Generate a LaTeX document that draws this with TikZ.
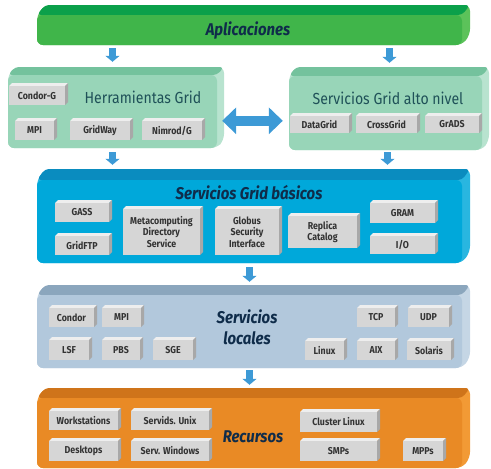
\documentclass[tikz,border=0pt]{standalone}
\usepackage{fontspec}
\setmainfont{Fira Sans}
\newfontfamily\narrowsans[FakeStretch=0.88]{Fira Sans}
\usetikzlibrary{arrows.meta,calc}

% layer colours: front face, top face, right side
\definecolor{appsfront}{HTML}{40B54A}
\definecolor{appstop}{HTML}{0BA04A}
\definecolor{appsside}{HTML}{5CC25A}
\definecolor{herrfront}{HTML}{98D5B8}
\definecolor{herrtop}{HTML}{74C29D}
\definecolor{herrside}{HTML}{B8E3CF}
\definecolor{basfront}{HTML}{00A8DA}
\definecolor{bastop}{HTML}{0A8CBF}
\definecolor{basside}{HTML}{29B6E0}
\definecolor{locfront}{HTML}{B2C8DC}
\definecolor{loctop}{HTML}{8BA6BD}
\definecolor{locside}{HTML}{C5D6E5}
\definecolor{recfront}{HTML}{E98A25}
\definecolor{rectop}{HTML}{CF741A}
\definecolor{recside}{HTML}{F29A35}
% small component boxes
\definecolor{chipfront}{HTML}{D6D6D6}
\definecolor{chiptop}{HTML}{EEEEEE}
\definecolor{chipside}{HTML}{A8A8A8}
\definecolor{chiptext}{HTML}{333333}
% text and arrows
\definecolor{titlenavy}{HTML}{0F2C4A}
\definecolor{titleteal}{HTML}{1F5158}
\definecolor{arrowblue}{HTML}{3D9AD6}

\tikzset{
  chipbox/.style={fill=chipfront, inner sep=0pt, text=chiptext, align=center,
    font=\narrowsans\fontsize{10}{11.5}\selectfont\bfseries},
  slabfront/.style={rounded corners=6pt, inner sep=0pt},
  boldtitle/.style={text=titlenavy, align=center,
    font=\narrowsans\fontsize{17}{21}\selectfont\bfseries\itshape},
  plaintitle/.style={text=titleteal, font=\narrowsans\fontsize{16}{18}\selectfont},
  darrow/.style={draw=arrowblue, line width=7pt,
    -{Triangle[width=14pt,length=6pt]}},
  biarrow/.style={draw=arrowblue, line width=10pt,
    {Triangle[width=26pt,length=14pt]}-{Triangle[width=26pt,length=14pt]}},
}

% \slab{name}{x1}{top}{x2}{bottom}{dx}{dy}{colour prefix}
\newcommand\slab[8]{%
  \fill[#8side, rounded corners=6pt] (#2,#5) -- (#2,{#3+#7}) -- ({#2+#6},#3)
     -- ({#4+#6},#3) -- ({#4+#6},{#5-#7}) -- (#4,#5) -- cycle;
  \fill[#8top, rounded corners=4pt] (#2,{#3+#7}) -- ({#2+#6},#3)
     -- ({#4+#6},#3) -- (#4,{#3+#7}) -- cycle;
  \node[slabfront, fill=#8front, minimum width={#4-#2}, minimum height={#5-#3-#7}]
     (#1) at ({(#2+#4)/2},{(#3+#7+#5)/2}) {};
}

% \chip{name}{x1}{y1}{x2}{y2}{label}
\newcommand\chip[6]{%
  \fill[chiptop] (#2,{#3+3}) -- ({#2+3},#3) -- (#4,#3) -- ({#4-3},{#3+3}) -- cycle;
  \fill[chipside] ({#4-3},{#3+3}) -- (#4,#3) -- (#4,{#5-3}) -- ({#4-3},#5) -- cycle;
  \node[chipbox, minimum width={#4-#2-3}, minimum height={#5-#3-3}]
     (#1) at ({(#2+#4-3)/2},{(#3+3+#5)/2}) {#6};
}

\begin{document}
\begin{tikzpicture}[x=1pt, y=-1pt]
\useasboundingbox (0,0) rectangle (491,469);

% ---- Aplicaciones
\slab{apps}{37}{5}{462}{45}{8}{10}{apps}
\node[boldtitle] (appst) at (248,31) {Aplicaciones};

% ---- Herramientas Grid
\slab{herr}{8}{67}{217}{148}{7}{8}{herr}
\node[plaintitle] (herrt) at (143,97) {Herramientas Grid};
\chip{hcondor}{9}{83}{68}{105}{Condor-G}
\chip{hmpi}{15}{118}{57}{140}{MPI}
\chip{hgridway}{70}{118}{133}{140}{GridWay}
\chip{hnimrod}{142}{118}{205}{140}{Nimrod/G}

% ---- Servicios Grid alto nivel
\slab{alto}{289}{67}{482}{150}{7}{9}{herr}
\node[plaintitle] (altot) at (388,98) {Servicios Grid alto nivel};
\chip{adata}{290}{113}{352}{133}{DataGrid}
\chip{across}{356}{113}{420}{133}{CrossGrid}
\chip{agrads}{425}{113}{482}{133}{GrADS}

% ---- Servicios Grid basicos
\slab{bas}{37}{169}{462}{263}{8}{11}{bas}
\node[boldtitle] (bast) at (249,193) {Servicios Grid básicos};
\chip{bgass}{55}{200}{112}{222}{GASS}
\chip{bftp}{55}{233}{112}{255}{GridFTP}
\chip{bmds}{123}{206}{203}{255}{Metacomputing\\Directory\\Service}
\chip{bgsi}{215}{206}{282}{255}{Globus\\Security\\Interface}
\chip{brep}{288}{213}{360}{248}{Replica\\Catalog}
\chip{bgram}{370}{200}{438}{223}{GRAM}
\chip{bio}{370}{233}{438}{254}{I/O}

% ---- Servicios locales
\slab{loc}{37}{285}{462}{368}{8}{10}{loc}
\node[boldtitle] (loct) at (247,327) {Servicios\\locales};
\chip{lcondor}{49}{305}{97}{327}{Condor}
\chip{lmpi}{102}{305}{144}{327}{MPI}
\chip{llsf}{49}{337}{92}{360}{LSF}
\chip{lpbs}{102}{337}{143}{360}{PBS}
\chip{lsge}{153}{337}{196}{360}{SGE}
\chip{llinux}{305}{338}{347}{360}{Linux}
\chip{ltcp}{357}{305}{398}{327}{TCP}
\chip{ludp}{408}{305}{452}{327}{UDP}
\chip{laix}{357}{338}{398}{360}{AIX}
\chip{lsolaris}{407}{338}{454}{360}{Solaris}

% ---- Recursos
\slab{rec}{37}{388}{462}{468}{8}{10}{rec}
\node[boldtitle] (rect) at (253,437) {Recursos};
\chip{rws}{49}{408}{121}{430}{Workstations}
\chip{runix}{131}{408}{212}{430}{Servids. Unix}
\chip{rdesk}{49}{438}{121}{461}{Desktops}
\chip{rwin}{131}{438}{212}{461}{Serv. Windows}
\chip{rclus}{300}{409}{380}{432}{Cluster Linux}
\chip{rsmp}{300}{438}{380}{461}{SMPs}
\chip{rmpp}{403}{438}{446}{461}{MPPs}

% ---- arrows between layers
\draw[darrow, shorten <=3pt, shorten >=13pt] (apps.south -| herr.north) -- (herr.north);
\draw[darrow, shorten <=3pt, shorten >=13pt] ([xshift=4pt]apps.south -| alto.north) -- ([xshift=4pt]alto.north);
\draw[darrow, shorten <=4pt, shorten >=15pt] (herr.south) -- (herr.south |- bas.north);
\draw[darrow, shorten <=2pt, shorten >=15pt] ([xshift=2pt]alto.south) -- ([xshift=2pt]alto.south |- bas.north);
\draw[darrow, shorten <=4pt, shorten >=13pt] (bas.south) -- (bas.south |- loc.north);
\draw[darrow, shorten <=2pt, shorten >=13pt] (loc.south) -- (loc.south |- rec.north);
\draw[biarrow, shorten <=5pt, shorten >=6pt] (herr.east |- hgridway.north) -- (alto.west |- hgridway.north);
\end{tikzpicture}
\end{document}
